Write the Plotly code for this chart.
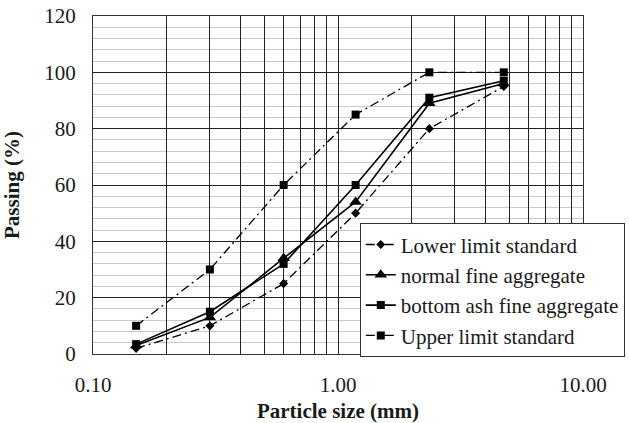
import plotly.graph_objects as go

sizes = [0.15, 0.3, 0.6, 1.18, 2.36, 4.75]
lower = [2, 10, 25, 50, 80, 95]
normal = [3, 13, 34, 54, 89, 96]
bottom_ash = [3.5, 15, 32, 60, 91, 97]
upper = [10, 30, 60, 85, 100, 100]

x_grid_vals = [0.1, 0.2, 0.3, 0.4, 0.5, 0.6, 0.7, 0.8, 0.9,
               1, 2, 3, 4, 5, 6, 7, 8, 9, 10]
x_major_labels = {0.1: "0.10", 1: "1.00", 10: "10.00"}
x_tick_text = [x_major_labels.get(v, "") for v in x_grid_vals]
y_tick_vals = [0, 20, 40, 60, 80, 100, 120]

FONT = "Liberation Serif"
FS = 21
dashdot = "9px,4px,2px,4px"

fig = go.Figure()
fig.add_trace(go.Scatter(x=sizes, y=lower, name="Lower limit standard", mode="lines+markers",
                         line=dict(color="black", width=1.3, dash=dashdot),
                         marker=dict(symbol="diamond", size=7, color="black")))
fig.add_trace(go.Scatter(x=sizes, y=normal, name="normal fine aggregate", mode="lines+markers",
                         line=dict(color="black", width=1.6),
                         marker=dict(symbol="triangle-up", size=11, color="black")))
fig.add_trace(go.Scatter(x=sizes, y=bottom_ash, name="bottom ash fine aggregate", mode="lines+markers",
                         line=dict(color="black", width=1.6),
                         marker=dict(symbol="square", size=8, color="black")))
fig.add_trace(go.Scatter(x=sizes, y=upper, name="Upper limit standard", mode="lines+markers",
                         line=dict(color="black", width=1.3, dash=dashdot),
                         marker=dict(symbol="square", size=8, color="black")))

fig.update_layout(
    width=629, height=423,
    margin=dict(l=93, r=46, t=16, b=69, autoexpand=False),
    paper_bgcolor="white", plot_bgcolor="white",
    font=dict(family=FONT, size=FS, color="#1a1a1a"),
    legend=dict(xref="container", yref="container", x=0.572, y=0.472,
                xanchor="left", yanchor="top",
                bgcolor="white", bordercolor="#333", borderwidth=1,
                font=dict(family=FONT, size=FS, color="#1a1a1a"),
                tracegroupgap=0, itemwidth=30),
    showlegend=True,
)
fig.update_xaxes(type="log", range=[-1, 1], automargin=False,
                 tickvals=x_grid_vals, ticktext=x_tick_text,
                 showgrid=True, gridcolor="#222", gridwidth=1,
                 showline=True, linecolor="#333", linewidth=1, mirror=True,
                 ticks="", ticklabelstandoff=12,
                 title=dict(text="<b>Particle size (mm)</b>", standoff=9,
                            font=dict(family=FONT, size=FS)),
                 zeroline=False)
fig.update_yaxes(range=[0, 120], tickvals=y_tick_vals, automargin=False,
                 showgrid=True, gridcolor="#222", gridwidth=1,
                 minor=dict(dtick=4, showgrid=True, gridcolor="#c8c8c8", gridwidth=1),
                 showline=True, linecolor="#333", linewidth=1, mirror=True,
                 ticks="", ticklabelstandoff=12,
                 title=dict(text="<b>Passing (%)</b>", standoff=18,
                            font=dict(family=FONT, size=FS)),
                 zeroline=False)

fig.write_html("out.html")
